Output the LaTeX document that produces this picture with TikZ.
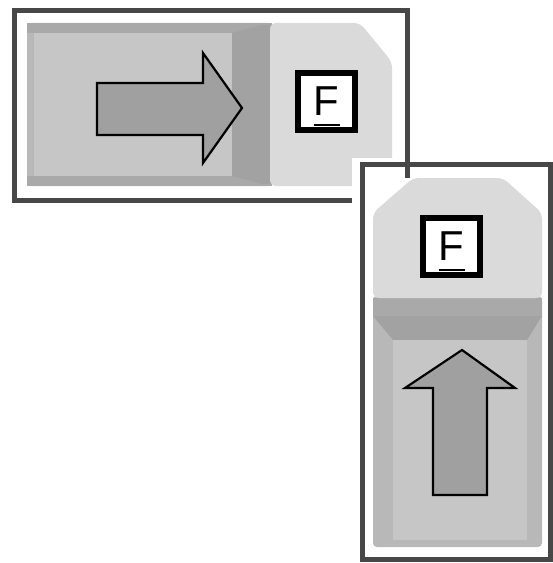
\documentclass[tikz,border=0pt]{standalone}
\usepackage{fontspec}
\newfontfamily\keyfont{Liberation Sans}
\definecolor{framec}{HTML}{474747}
\definecolor{bodyc}{HTML}{B8B8B8}
\definecolor{innerc}{HTML}{C6C6C6}
\definecolor{edgec}{HTML}{A9A9A9}
\definecolor{darkc}{HTML}{A2A2A2}
\definecolor{capc}{HTML}{DADADA}
\definecolor{arrowc}{HTML}{A0A0A0}
\tikzset{
  frameline/.style={draw=framec, line width=5bp},
  keybox/.style={draw=black, line width=6bp, fill=white, minimum width=57bp, minimum height=57bp, inner sep=0pt, font=\keyfont\fontsize{42}{42}\selectfont},
  bigarrow/.style={draw=black, line width=2.2bp, fill=arrowc, line join=miter},
  keyline/.style={draw=black, line width=1.6bp},
}
\begin{document}
\begin{tikzpicture}[x=1bp, y=-1bp]
\useasboundingbox (0,0) rectangle (553,563);
\fill[white] (0,0) rectangle (553,563);
% ---------- device 1 (horizontal) ----------
\fill[bodyc, rounded corners=4bp] (27,23) rectangle (272,186);
\fill[edgec] (27,23) rectangle (272,33);
\fill[edgec] (27,176) rectangle (272,186);
\fill[innerc] (34,33) rectangle (232,176);
\fill[darkc] (232,33) -- (262,25) -- (272,25) -- (272,184) -- (262,184) -- (232,176) -- cycle;
\fill[capc, rounded corners=6bp] (270,23) -- (360,23) -- (392,62) -- (392,186) -- (270,186) -- cycle;
% frame 1
\draw[frameline] (14.5,10.5) rectangle (407.5,200.5);
% arrow 1
\draw[bigarrow] (97,83) -- (203,83) -- (203,53) -- (242,108) -- (203,163) -- (203,135) -- (97,135) -- cycle;
\node[keybox] (f1) at (326.5,101.5) {F};
\draw[keyline] ([shift={(-13bp,8bp)}]f1.south) -- ([shift={(13bp,8bp)}]f1.south);
% ---------- frame 2 with white margin ----------
\fill[white] (352,158) rectangle (553,563);
\draw[framec, line width=5bp] (407.5,158) -- (407.5,178);
% device 2 (vertical)
\fill[bodyc, rounded corners=4bp] (373,296) rectangle (542,547);
\fill[edgec] (373,298) rectangle (542,316);
\fill[darkc] (373,316) -- (542,316) -- (527,340) -- (393,340) -- cycle;
\fill[innerc] (393,340) rectangle (527,540);
\fill[capc, rounded corners=6bp] (413,178) -- (503,178) -- (542,213) -- (542,298) -- (373,298) -- (373,213) -- cycle;
\draw[frameline] (362,164.5) rectangle (550.5,559.5);
% arrow 2
\draw[bigarrow] (433,495) -- (433,388) -- (405,388) -- (462,350) -- (515,388) -- (487,388) -- (487,495) -- cycle;
\node[keybox] (f2) at (451.5,246.5) {F};
\draw[keyline] ([shift={(-13bp,8bp)}]f2.south) -- ([shift={(13bp,8bp)}]f2.south);
\end{tikzpicture}
\end{document}
